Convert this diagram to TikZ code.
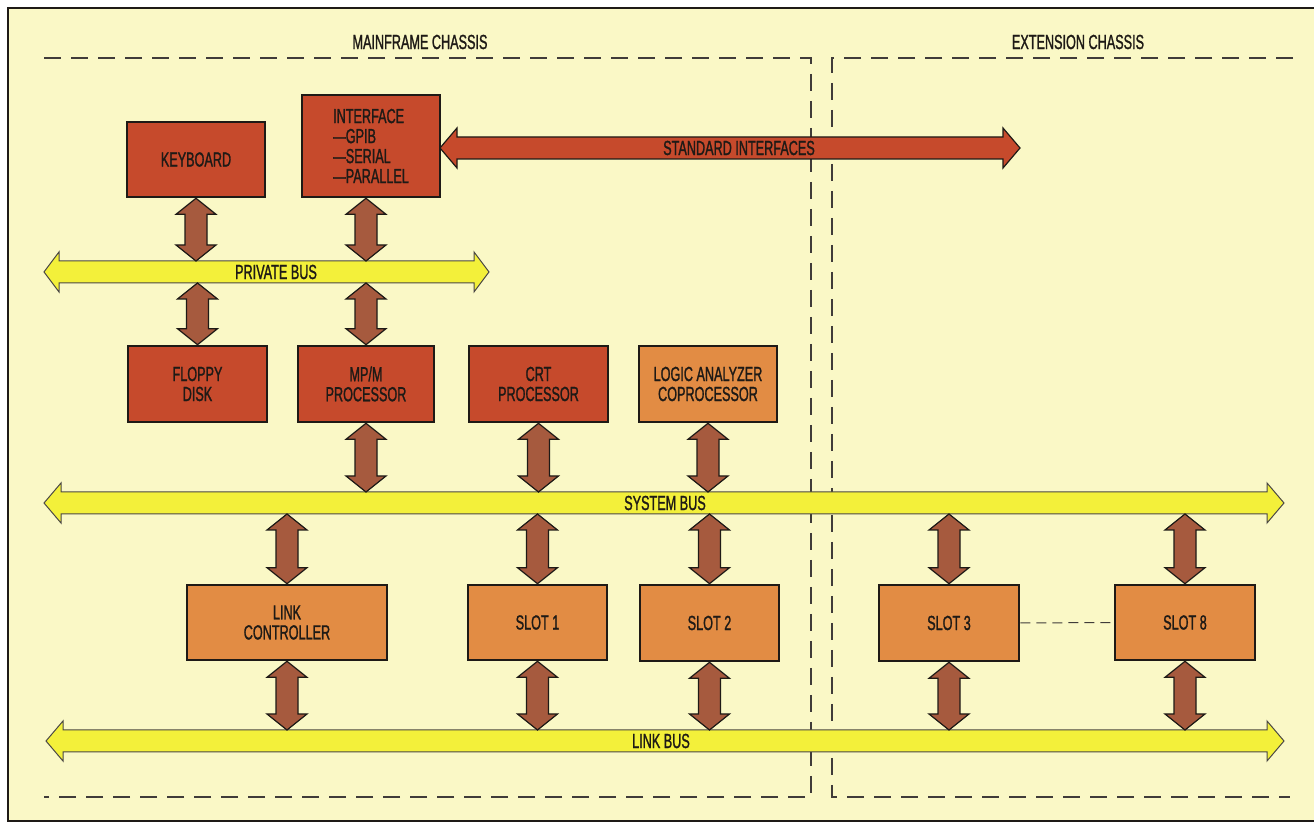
\documentclass[tikz,border=0pt]{standalone}
\usepackage{fontspec}
\setmainfont{Liberation Sans}[FakeStretch=0.62,FakeBold=1.2]
\usetikzlibrary{calc}
\definecolor{bg}{HTML}{FAF8C6}
\definecolor{boxred}{HTML}{C64A2C}
\definecolor{boxorange}{HTML}{E28C44}
\definecolor{connbrown}{HTML}{A65A3E}
\definecolor{busyellow}{HTML}{F3F03A}
\definecolor{ink}{HTML}{1E1A16}
% vertical double-arrow connector between two points (top, bottom)
\newcommand\vconn[2]{%
  \filldraw[conn] let \p1=(#1), \p2=(#2) in
    (\x1,\y1) -- ({\x1+10pt},{\y1-8pt}) -- ({\x1+5.5pt},{\y1-8pt}) --
    ({\x1+5.5pt},{\y2+8pt}) -- ({\x1+10pt},{\y2+8pt}) -- (\x1,\y2) --
    ({\x1-10pt},{\y2+8pt}) -- ({\x1-5.5pt},{\y2+8pt}) --
    ({\x1-5.5pt},{\y1-8pt}) -- ({\x1-10pt},{\y1-8pt}) -- cycle;}
% horizontal double arrow: xl, xr, y, head length, style
\newcommand\hbus[5]{%
  \filldraw[#5] (#1,#3) -- ({#1+#4},{#3-20}) -- ({#1+#4},{#3-11}) --
    ({#2-#4},{#3-11}) -- ({#2-#4},{#3-20}) -- (#2,#3) --
    ({#2-#4},{#3+20}) -- ({#2-#4},{#3+11}) -- ({#1+#4},{#3+11}) --
    ({#1+#4},{#3+20}) -- cycle;}
\begin{document}
\begin{tikzpicture}[x=0.5pt,y=-0.5pt,
  font=\fontsize{10.2}{10}\selectfont,
  every node/.style={text=ink},
  blk/.style={draw=ink, line width=1.3pt, align=center, inner sep=0pt},
  redbox/.style={blk, fill=boxred},
  orbox/.style={blk, fill=boxorange},
  conn/.style={fill=connbrown, draw=ink, line width=0.6pt, line join=miter},
  bus/.style={fill=busyellow, draw=ink!80, line width=0.5pt},
  redbus/.style={fill=boxred, draw=ink, line width=0.6pt},
  chassis/.style={draw=ink!85, line width=0.6pt, dash pattern=on 8.5pt off 5pt},
  slotdash/.style={draw=ink!85, line width=0.5pt, dash pattern=on 5pt off 3pt},
  lbl/.style={inner sep=0pt}]
\useasboundingbox (0,0) rectangle (1314,823);
\fill[white] (0,0) rectangle (1314,823);
\fill[bg] (8,8) rectangle (1314,821);
\draw[ink, line width=1.1pt] (1314,8) -- (8,8) -- (8,821) -- (1314,821);

% chassis outlines
\node[lbl] (mfc) at (420,42) {MAINFRAME CHASSIS};
\node[lbl] (exc) at (1078,42) {EXTENSION CHASSIS};
\draw[chassis] (44,58) -- (811,58) -- (811,797) -- (44,797);
\draw[chassis] (1293,58) -- (832,58) -- (832,797) -- (1290,797);

% boxes
\node[redbox, minimum width=69pt, minimum height=37.5pt] (kb) at (196,159.5) {KEYBOARD};
\node[redbox, minimum width=69pt, minimum height=51pt, align=left] (intf) at (371,146)
  {INTERFACE\\---GPIB\\---SERIAL\\---PARALLEL};
\node[redbox, minimum width=69.5pt, minimum height=38pt] (floppy) at (197.5,384) {FLOPPY\\DISK};
\node[redbox, minimum width=68pt, minimum height=38pt] (mpm) at (366,384) {MP/M\\PROCESSOR};
\node[redbox, minimum width=69.5pt, minimum height=38pt] (crt) at (538.5,384) {CRT\\PROCESSOR};
\node[orbox, minimum width=69pt, minimum height=38pt] (logic) at (708,384) {LOGIC ANALYZER\\COPROCESSOR};
\node[orbox, minimum width=100pt, minimum height=37.5pt] (link) at (287,622.5) {LINK\\CONTROLLER};
\node[orbox, minimum width=69.5pt, minimum height=37.5pt] (slot1) at (537.5,622.5) {SLOT 1};
\node[orbox, minimum width=69.5pt, minimum height=38pt] (slot2) at (709.5,623) {SLOT 2};
\node[orbox, minimum width=70pt, minimum height=38pt] (slot3) at (949,623) {SLOT 3};
\node[orbox, minimum width=70pt, minimum height=37.5pt] (slot8) at (1185,622.5) {SLOT 8};
\draw[slotdash] (slot3.east) -- (slot8.west);

% buses
\hbus{440}{1020}{148}{17}{redbus}
\node[lbl] (stdif) at (739,148) {STANDARD INTERFACES};
\hbus{44}{489}{272}{15}{bus}
\node[lbl] (pbus) at (276,272) {PRIVATE BUS};
\coordinate (pbusT) at (0,261);
\coordinate (pbusB) at (0,283);
\hbus{44}{1284}{503}{17}{bus}
\node[lbl] (sbus) at (665,503) {SYSTEM BUS};
\coordinate (sbusT) at (0,492);
\coordinate (sbusB) at (0,514);
\hbus{46}{1284}{741}{17}{bus}
\node[lbl] (lbus) at (661,741) {LINK BUS};
\coordinate (lbusT) at (0,730);
\coordinate (lbusB) at (0,752);

% connectors
\vconn{kb.south}{kb.south |- pbusT}
\vconn{mpm.north |- intf.south}{mpm.north |- pbusT}
\vconn{floppy.north |- pbusB}{floppy.north}
\vconn{mpm.north |- pbusB}{mpm.north}
\vconn{mpm.south}{mpm.south |- sbusT}
\vconn{crt.south}{crt.south |- sbusT}
\vconn{logic.south}{logic.south |- sbusT}
\vconn{link.north |- sbusB}{link.north}
\vconn{slot1.north |- sbusB}{slot1.north}
\vconn{slot2.north |- sbusB}{slot2.north}
\vconn{slot3.north |- sbusB}{slot3.north}
\vconn{slot8.north |- sbusB}{slot8.north}
\vconn{link.south}{link.south |- lbusT}
\vconn{slot1.south}{slot1.south |- lbusT}
\vconn{slot2.south}{slot2.south |- lbusT}
\vconn{slot3.south}{slot3.south |- lbusT}
\vconn{slot8.south}{slot8.south |- lbusT}
\end{tikzpicture}
\end{document}
